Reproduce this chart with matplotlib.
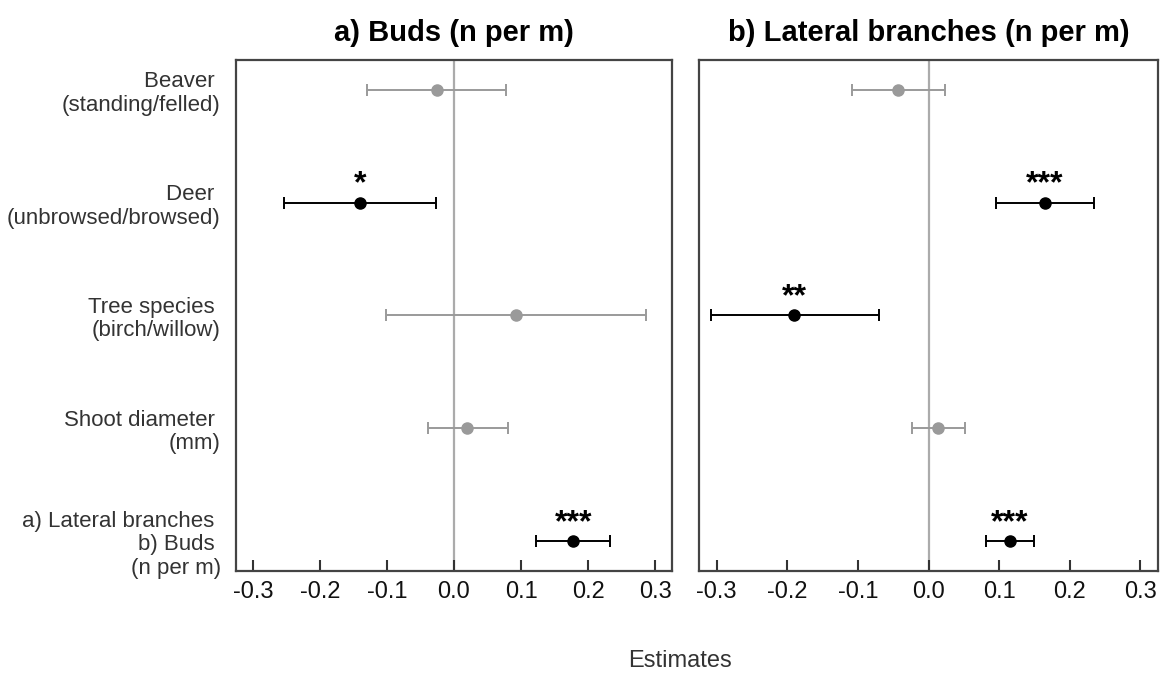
import matplotlib
matplotlib.use("Agg")
import matplotlib.pyplot as plt

plt.rcParams['font.family'] = ['Liberation Sans', 'DejaVu Sans']

categories = ["Beaver \n(standing/felled)", "Deer \n(unbrowsed/browsed)",
              "Tree species \n(birch/willow)", "Shoot diameter \n(mm)",
              "a) Lateral branches \nb) Buds \n(n per m)"]

titles = ["a) Buds (n per m)", "b) Lateral branches (n per m)"]

# Panel a: buds
buds_est = [-0.026, -0.140, 0.092, 0.020, 0.178]
buds_low = [-0.129, -0.254, -0.101, -0.039, 0.122]
buds_high = [0.078, -0.027, 0.286, 0.081, 0.233]
buds_sig = ["", "*", "", "", "***"]

# Panel b: lateral branches
lat_est = [-0.043, 0.165, -0.190, 0.014, 0.115]
lat_low = [-0.109, 0.096, -0.308, -0.024, 0.081]
lat_high = [0.023, 0.234, -0.070, 0.052, 0.150]
lat_sig = ["", "***", "**", "", "***"]

xticks = [-0.3, -0.2, -0.1, 0.0, 0.1, 0.2, 0.3]
xticklabels = ["-0.3", "-0.2", "-0.1", "0.0", "0.1", "0.2", "0.3"]

W, H = 1164, 673
fig = plt.figure(figsize=(W / 100, H / 100), dpi=100)
ax1 = fig.add_axes([236 / W, 1 - 571 / H, 436 / W, 511 / H])
ax2 = fig.add_axes([699 / W, 1 - 571 / H, 459 / W, 511 / H])

grey = "#9a9a9a"
panels = [(ax1, buds_est, buds_low, buds_high, buds_sig),
          (ax2, lat_est, lat_low, lat_high, lat_sig)]

ypos = list(range(len(categories)))
for i, (ax, est, lo, hi, sig) in enumerate(panels):
    ax.axvline(0, color="#ababab", lw=1.6, zorder=1)
    for j in ypos:
        c = "black" if sig[j] else grey
        ax.errorbar(est[j], j, xerr=[[est[j] - lo[j]], [hi[j] - est[j]]],
                    fmt="o", color=c, ecolor=c, elinewidth=1.4, capsize=4.5,
                    capthick=1.4, markersize=8, zorder=3)
        if sig[j]:
            ax.text(est[j], j - 0.16, sig[j], ha="center", va="center",
                    fontsize=23, fontweight="bold", color="black")
    ax.set_xlim(-0.325, 0.325)
    ax.set_ylim(len(categories) - 1 + 0.265, -0.265)
    ax.set_xticks(xticks)
    ax.set_xticklabels(xticklabels, fontsize=17, color="#111111")
    ax.tick_params(axis="x", direction="in", length=8, width=1.5,
                   color="#333333", pad=7)
    ax.set_yticks(ypos)
    ax.tick_params(axis="y", length=0, pad=11)
    if i == 0:
        ax.set_yticklabels(categories, fontsize=16, color="#333333",
                           ha="right", linespacing=1.15)
    else:
        ax.set_yticklabels([])
    for s in ax.spines.values():
        s.set_color("#444444")
        s.set_linewidth(1.6)
    ax.set_title(titles[i], fontsize=21, fontweight="bold", pad=14)

fig.text(680 / W, 1 - 661 / H, "Estimates", ha="center", va="center",
         fontsize=17, color="#333333")

fig.savefig("out.png", dpi=100)
